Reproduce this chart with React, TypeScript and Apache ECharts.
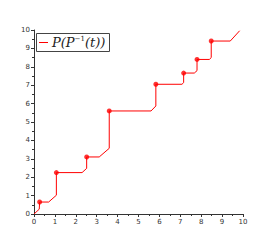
import React, { useEffect, useRef } from "react";
import * as echarts from "echarts";

const pathX = [0, 0.25, 0.27, 0.7, 1.07, 1.07, 2.3, 2.52, 2.52, 3.12, 3.6, 3.6, 5.6, 5.83, 5.83, 7.08, 7.16, 7.16, 7.67, 7.8, 7.8, 8.39, 8.48, 8.48, 9.39, 9.84];
const pathY = [0, 0.26, 0.65, 0.65, 1.02, 2.25, 2.25, 2.48, 3.1, 3.1, 3.57, 5.6, 5.6, 5.87, 7.05, 7.05, 7.14, 7.66, 7.66, 7.79, 8.4, 8.4, 8.5, 9.4, 9.4, 9.96];
const dotX = [0.27, 1.07, 2.52, 3.6, 5.83, 7.16, 7.8, 8.48];
const dotY = [0.65, 2.25, 3.1, 5.6, 7.05, 7.66, 8.4, 9.4];

export default function App() {
  const ref = useRef<HTMLDivElement>(null);
  useEffect(() => {
    document.body.style.margin = "0";
    const chart = echarts.init(ref.current!, null, { renderer: "svg" });
    const axisCommon = {
      type: "value",
      min: 0,
      max: 10,
      interval: 1,
      axisLine: { show: true, lineStyle: { color: "#333", width: 1 } },
      axisTick: { show: true, length: 3, lineStyle: { color: "#333" } },
      minorTick: { show: true, splitNumber: 2, length: 2, lineStyle: { color: "#333" } },
      splitLine: { show: false },
      axisLabel: { fontSize: 7, color: "#333", fontFamily: "DejaVu Sans", margin: 4 },
    };
    chart.setOption({
      animation: false,
      grid: { left: 34, right: 34, top: 30, bottom: 31 },
      xAxis: { ...axisCommon },
      yAxis: { ...axisCommon },
      series: [
        {
          type: "line",
          data: pathX.map((x, i) => [x, pathY[i]]),
          showSymbol: false,
          lineStyle: { color: "#ff0000", width: 1 },
        },
        {
          type: "scatter",
          data: dotX.map((x, i) => [x, dotY[i]]),
          symbolSize: 5,
          itemStyle: { color: "#ff0000" },
        },
      ],
      graphic: [
        {
          type: "rect",
          shape: { x: 36.5, y: 33.5, width: 73, height: 18 },
          style: { fill: "#fff", stroke: "#444", lineWidth: 1 },
        },
        {
          type: "line",
          shape: { x1: 39, y1: 42.5, x2: 48, y2: 42.5 },
          style: { stroke: "#ff0000", lineWidth: 1 },
        },
        {
          type: "text",
          x: 52,
          y: 42.5,
          style: {
            text: "{a|P(P}{s|−1}{a|(t))}",
            verticalAlign: "middle",
            rich: {
              a: { fontFamily: "DejaVu Serif", fontStyle: "italic", fontSize: 13, fill: "#222", verticalAlign: "middle" },
              s: { fontFamily: "DejaVu Serif", fontSize: 7, fill: "#222", verticalAlign: "top", padding: [0, 0, 8, 0] },
            },
          },
        },
      ],
    });
    return () => chart.dispose();
  }, []);
  return <div ref={ref} style={{ width: 277, height: 245 }} />;
}
